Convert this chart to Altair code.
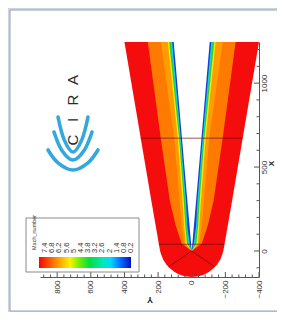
import altair as alt
import pandas as pd

# ---------------- data (physical units: X along the body, Y across) -------------
outer_X = [-155, -150, -140, -125, -105, -80, -50, -20, 0, 300, 672, 1245]
outer_half = [0, 43, 74, 102, 128, 151, 170, 182, 188, 240, 303, 400]

band_X = [0, 45, 150, 300, 672, 1245]
orange_half = [0, 60, 95, 130, 184, 261]
lightorange_half = [0, 45, 60, 72, 104, 184]
yellow_half = [0, 36, 45, 55, 83, 142]
green_half = [0, 28, 38, 47, 75, 134]
cyan_half = [0, 20, 32, 40, 70, 125]
blue_half = [0, 12, 26, 34, 65, 116]
body_half = [0, 4, 13, 26, 58, 107]

# block (grid) lines
blk_Xa = [40, 672, 0, 0]
blk_Ya = [195, 303, 0, 0]
blk_Xb = [40, 672, -95, -95]
blk_Yb = [-195, -303, 138, -138]

# axes
y_major = [800, 600, 400, 200, 0, -200, -400]
x_major = [0, 500, 1000]
y_minor = [v for v in range(-400, 901, 40) if v % 200 != 0]
x_minor = [v for v in range(-100, 1201, 100) if v % 500 != 0]

# legend
legend_title = "Mach_number"
legend_labels = ["7.4", "6.8", "6.2", "5.6", "5", "4.4", "3.8", "3.2", "2.6", "2", "1.4", "0.8", "0.2"]
legend_stops = [("#ff0000", 0.0), ("#ff6a00", 0.14), ("#ffc400", 0.27), ("#f4f400", 0.34),
                ("#7cf000", 0.43), ("#00e040", 0.55), ("#00e8c0", 0.7), ("#00d8ff", 0.78),
                ("#0060ff", 0.9), ("#0010c0", 1.0)]

# logo
logo_letters = ["C", "I", "R", "A"]
logo_arc_hw = [15, 19, 25]
logo_arc_top = [75, 90, 108]
logo_arc_bot = [110, 118, 128]

# ---------------- layout ----------------
W, H = 219, 235
FONT = "Liberation Sans"

xs = alt.Scale(domain=[-400, 902], reverse=True, nice=False, zero=False)
ys = alt.Scale(domain=[-155, 1245], nice=False, zero=False)

x_axis = alt.Axis(values=y_major, format="d", labelAngle=270, labelAlign="right", labelBaseline="middle",
                  labelFontSize=8, labelFont=FONT, labelColor="#333", labelPadding=3,
                  labelFlush=False, labelOverlap=False, ticks=False, grid=False,
                  domainColor="#555", domainWidth=1, zindex=2,
                  title="Y", titleAngle=180, titleFontSize=9, titleFont=FONT,
                  titleFontWeight="bold", titleColor="#222", titlePadding=5)
y_axis = alt.Axis(values=x_major, format="d", orient="right", labelAngle=270, labelAlign="center",
                  labelBaseline="top", labelFontSize=8, labelFont=FONT, labelColor="#333",
                  labelPadding=1, labelFlush=False, labelOverlap=False, ticks=False,
                  grid=False, domainColor="#555", domainWidth=1, zindex=2,
                  title="X", titleAngle=270, titleFontSize=8, titleFont=FONT,
                  titleFontWeight="bold", titleColor="#222",
                  titleX=12, titleY=121, titleAlign="center", titleBaseline="middle")

one = pd.DataFrame({"k": [0]})


def band(xv, hv, color):
    df = pd.DataFrame({"X": xv, "hi": hv, "lo": [-h for h in hv]})
    return alt.Chart(df).mark_area(orient="horizontal", color=color).encode(
        y=alt.Y("X:Q", scale=ys, axis=y_axis),
        x=alt.X("hi:Q", scale=xs, axis=x_axis),
        x2="lo:Q",
    )


layers = []

# panel
layers.append(alt.Chart(one).mark_rect(fill="white", stroke="#9aa4ae", strokeWidth=1).encode(
    x=alt.value(-30), x2=alt.value(240), y=alt.value(-32), y2=alt.value(269)))

# contour bands
layers.append(band(outer_X, outer_half, "#f50c0c"))
layers.append(band(band_X, orange_half, "#ff7a00"))
layers.append(band(band_X, lightorange_half, "#ff9c00"))
layers.append(band(band_X, yellow_half, "#f2ec10"))
layers.append(band(band_X, green_half, "#22d42c"))
layers.append(band(band_X, cyan_half, "#12d2e8"))
layers.append(band(band_X, blue_half, "#1a3cd0"))
layers.append(band(band_X, body_half, "#ffffff"))

# block lines
blk = pd.DataFrame({"xa": blk_Xa, "ya": blk_Ya, "xb": blk_Xb, "yb": blk_Yb})
layers.append(alt.Chart(blk).mark_rule(color="#6a0a0a", strokeWidth=0.8, opacity=0.85).encode(
    x=alt.X("ya:Q", scale=xs, axis=x_axis), x2="yb:Q",
    y=alt.Y("xa:Q", scale=ys, axis=y_axis), y2="xb:Q"))

# inward ticks
def xticks(vals, ln):
    return alt.Chart(pd.DataFrame({"v": vals})).mark_rule(color="#555", strokeWidth=1).encode(
        x=alt.X("v:Q", scale=xs, axis=x_axis), y=alt.value(H), y2=alt.value(H - ln))


def yticks(vals, ln):
    return alt.Chart(pd.DataFrame({"v": vals})).mark_rule(color="#555", strokeWidth=1).encode(
        y=alt.Y("v:Q", scale=ys, axis=y_axis), x=alt.value(W), x2=alt.value(W - ln))


layers += [xticks(y_major, 5), xticks(y_minor, 2.5), yticks(x_major, 5), yticks(x_minor, 2.5)]

# legend
layers.append(alt.Chart(one).mark_rect(fill="white", stroke="#8a8a8a", strokeWidth=1).encode(
    x=alt.value(-14), x2=alt.value(99), y=alt.value(176), y2=alt.value(230)))
grad = alt.LinearGradient(gradient="linear", x1=0, x2=1, y1=0, y2=0,
                          stops=[alt.GradientStop(color=c, offset=o) for c, o in legend_stops])
layers.append(alt.Chart(one).mark_rect(color=grad).encode(
    x=alt.value(-1), x2=alt.value(91), y=alt.value(215), y2=alt.value(226)))
layers.append(alt.Chart(pd.DataFrame({"t": [legend_title]})).mark_text(
    angle=270, align="left", baseline="middle", fontSize=5.5, font=FONT, color="#333").encode(
    x=alt.value(-6), y=alt.value(208), text="t:N"))
lab = pd.DataFrame({"lab": legend_labels, "i": list(range(len(legend_labels)))})
layers.append(alt.Chart(lab).transform_calculate(px="5 + 7.17 * datum.i", py="211").mark_text(
    angle=270, align="left", baseline="middle", fontSize=7.5, font=FONT, color="#333").encode(
    x=alt.X("px:Q", scale=None), y=alt.Y("py:Q", scale=None), text="lab:N"))

# logo arcs
arc_rows = []
for a, (hw, top, bot) in enumerate(zip(logo_arc_hw, logo_arc_top, logo_arc_bot)):
    for k, f in enumerate([-1, -0.6, 0, 0.6, 1]):
        arc_rows.append({"arc": a, "k": k, "px": 33 + f * hw,
                         "py": top + (bot - top) * (1 - f * f)})
layers.append(alt.Chart(pd.DataFrame(arc_rows)).mark_line(
    color="#34a8dc", strokeWidth=3.6, strokeCap="round", interpolate="cardinal").encode(
    x=alt.X("px:Q", scale=None), y=alt.Y("py:Q", scale=None), detail="arc:N", order="k:Q"))

letters = pd.DataFrame({"c": logo_letters, "i": list(range(len(logo_letters)))})
layers.append(alt.Chart(letters).transform_calculate(px="33", py="98 - 20 * datum.i").mark_text(
    angle=270, align="center", baseline="middle", fontSize=15, font=FONT, color="#2a2a2a").encode(
    x=alt.X("px:Q", scale=None), y=alt.Y("py:Q", scale=None), text="c:N"))

chart = alt.layer(*layers).properties(
    width=W, height=H,
    padding={"left": 32, "top": 34, "right": 18, "bottom": 35},
    autosize=alt.AutoSizeParams(type="none"),
    background="#c9d6e5",
).configure_view(strokeWidth=0)

chart.save("out.html", embed_options={"renderer": "svg", "actions": False})
